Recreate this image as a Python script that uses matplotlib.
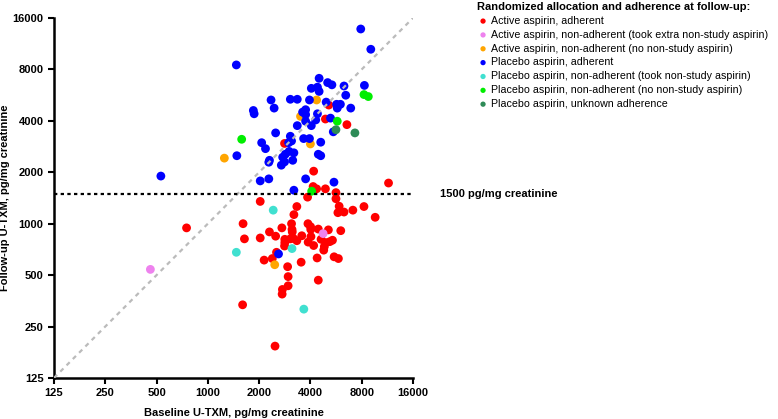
import matplotlib
matplotlib.use("Agg")
import matplotlib.pyplot as plt
from matplotlib.ticker import FixedLocator, FixedFormatter, NullLocator
from matplotlib.transforms import blended_transform_factory

plt.rcParams["font.family"] = ["Liberation Sans", "DejaVu Sans"]

# baseline / follow-up U-TXM (pg/mg creatinine)
active_adh_x = [2820, 5130, 4900, 6550, 4180, 4150, 4350, 4900, 5650, 3850, 5650, 2030, 3330, 5900, 7100,
                8250, 11500, 5800, 6300, 9600, 3200, 1610, 750, 1640, 2030, 2300, 2500, 2720, 3100, 3120,
                3130, 2830, 2830, 2820, 3050, 3180, 3330, 3560, 3870, 4010, 4020, 4030, 4180, 3880, 4450,
                4620, 5100, 4830, 4920, 5200, 5390, 4790, 6030, 5510, 5840, 2530, 2390, 2140, 4380, 2940,
                2960, 2960, 2740, 2730, 3530, 4450, 1600, 2480]
active_adh_y = [2950, 4950, 4100, 3800, 2030, 1650, 1600, 1600, 1520, 1430, 1400, 1350, 1260, 1265, 1200,
                1260, 1730, 1160, 1170, 1090, 1130, 1000, 945, 815, 825, 895, 845, 945, 1000, 925,
                895, 810, 775, 740, 815, 820, 795, 850, 1000, 960, 925, 840, 745, 780, 930,
                810, 920, 735, 775, 785, 800, 700, 910, 640, 625, 680, 625, 612, 630, 560,
                490, 433, 412, 387, 595, 467, 335, 192]

active_extra_x = [4750, 460]
active_extra_y = [875, 540]

active_none_x = [4350, 3500, 4000, 1250, 2470]
active_none_y = [5300, 4250, 2930, 2420, 575]

placebo_adh_x = [7900, 9050, 1470, 8300, 4500, 5050, 5350, 6300, 4050, 4400, 4500, 2350, 3050, 3350, 3950,
                 4950, 5700, 6450, 6000, 6900, 5750, 1850, 1870, 2450, 3600, 3750, 3750, 4400, 4300, 3750,
                 3350, 4050, 5250, 5450, 2500, 3050, 3650, 3950, 4600, 3100, 2980, 2070, 2180, 3000, 3200,
                 2850, 2750, 2700, 2820, 3150, 2300, 2280, 4450, 4600, 1480, 2030, 2280, 3750, 5500, 3200,
                 530, 2600]
placebo_adh_y = [13800, 10500, 8500, 6450, 7100, 6700, 6500, 6400, 6200, 6300, 5950, 5300, 5350, 5350, 5300,
                 5150, 5000, 5650, 5000, 4750, 4750, 4600, 4400, 4750, 4500, 4650, 4350, 4400, 4050, 3980,
                 3750, 3750, 4150, 3450, 3400, 3250, 3150, 3150, 3000, 3050, 2980, 2980, 2750, 2650, 2600,
                 2550, 2450, 2200, 2300, 2350, 2350, 2290, 2550, 2500, 2500, 1780, 1830, 1830, 1750, 1570,
                 1900, 665]

placebo_took_x = [2420, 1470, 3120, 3660]
placebo_took_y = [1200, 680, 715, 316]

placebo_none_x = [8250, 8750, 5750, 1580, 4070]
placebo_none_y = [5700, 5550, 3980, 3120, 1550]

placebo_unk_x = [5650, 7300]
placebo_unk_y = [3550, 3400]

groups = [
    ("Active aspirin, adherent", active_adh_x, active_adh_y, "#ff0000"),
    ("Active aspirin, non-adherent (took extra non-study aspirin)", active_extra_x, active_extra_y, "#ee82ee"),
    ("Active aspirin, non-adherent (no non-study aspirin)", active_none_x, active_none_y, "#ffa500"),
    ("Placebo aspirin, adherent", placebo_adh_x, placebo_adh_y, "#0000ff"),
    ("Placebo aspirin, non-adherent (took non-study aspirin)", placebo_took_x, placebo_took_y, "#40e0d0"),
    ("Placebo aspirin, non-adherent (no non-study aspirin)", placebo_none_x, placebo_none_y, "#00ee00"),
    ("Placebo aspirin, unknown adherence", placebo_unk_x, placebo_unk_y, "#2e8b57"),
]

ticks = [125, 250, 500, 1000, 2000, 4000, 8000, 16000]
threshold = 1500

fig = plt.figure(figsize=(7.78, 4.19), dpi=100)
ax = fig.add_axes([0.0694, 0.098, 0.4614, 0.859])

handles = []
for label, xs, ys, col in groups:
    h = ax.scatter(xs, ys, s=40, color=col, edgecolors="none", label=label, zorder=2)
    handles.append(h)

# line of identity and threshold
ax.plot([ticks[0], ticks[-1]], [ticks[0], ticks[-1]], color="#bbbbbb", lw=1.6,
        linestyle=(0, (2, 2)), zorder=3)
ax.plot([ticks[0], ticks[-1]], [threshold, threshold], color="black", lw=1.6,
        linestyle=(0, (1.5, 1.5)), zorder=3)

ax.set_xscale("log", base=2)
ax.set_yscale("log", base=2)
ax.set_xlim(ticks[0], ticks[-1])
ax.set_ylim(ticks[0], ticks[-1])
for axis in (ax.xaxis, ax.yaxis):
    axis.set_major_locator(FixedLocator(ticks))
    axis.set_major_formatter(FixedFormatter([str(t) for t in ticks]))
    axis.set_minor_locator(NullLocator())

for s in ("top", "right"):
    ax.spines[s].set_visible(False)
for s in ("left", "bottom"):
    ax.spines[s].set_linewidth(1.8)
ax.tick_params(width=1.5, length=4, labelsize=8)
for lab in ax.get_xticklabels() + ax.get_yticklabels():
    lab.set_fontweight("bold")

ax.set_xlabel("Baseline U-TXM, pg/mg creatinine", fontsize=8, fontweight="bold", labelpad=7)
ax.set_ylabel("Follow-up U-TXM, pg/mg creatinine", fontsize=8, fontweight="bold", labelpad=2)

tr = blended_transform_factory(ax.transAxes, ax.transData)
ax.text(1.075, threshold, "1500 pg/mg creatinine", transform=tr, fontsize=8,
        fontweight="bold", va="center", ha="left", clip_on=False)

leg = fig.legend(handles=handles, loc="upper left", bbox_to_anchor=(0.603, 1.013),
                 frameon=False, fontsize=7.7, title="Randomized allocation and adherence at follow-up:",
                 alignment="left", markerscale=0.6, handletextpad=0.15, labelspacing=0.36,
                 handlelength=1.2, borderpad=0.2)
leg.get_title().set_fontweight("bold")
leg.get_title().set_fontsize(8)

fig.savefig("out.png", dpi=100)
